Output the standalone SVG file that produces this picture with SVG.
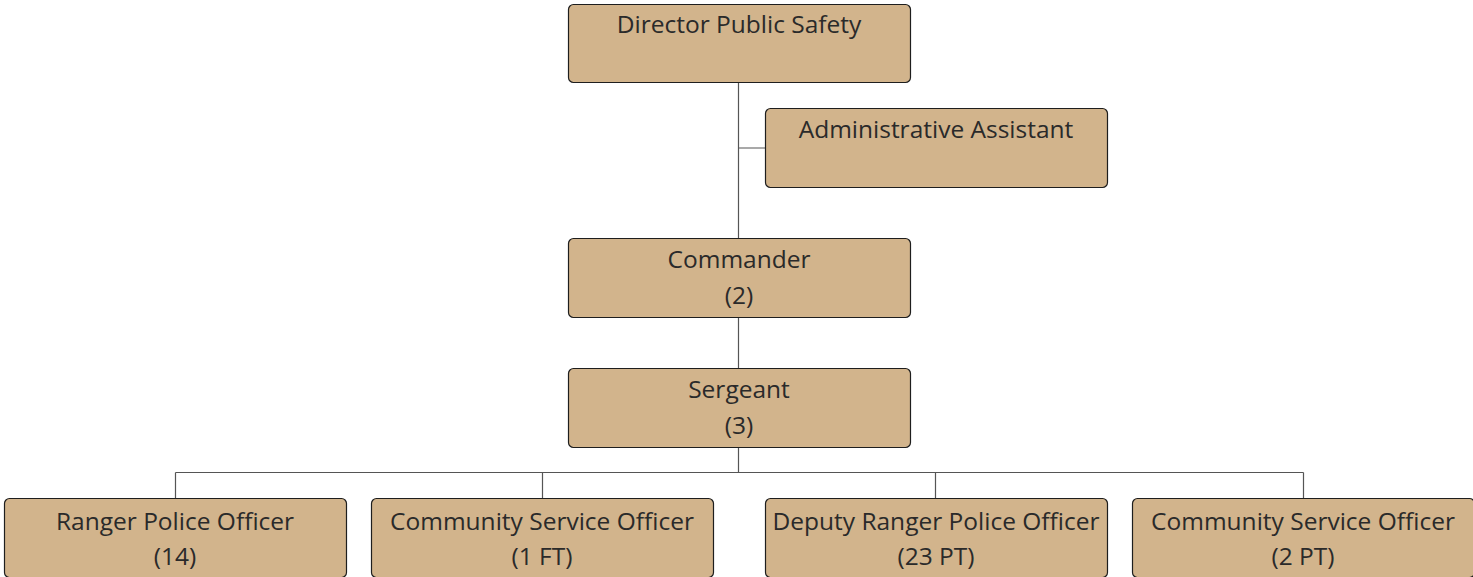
<svg xmlns="http://www.w3.org/2000/svg" width="1473" height="577" viewBox="0 0 1473 577">
<style>
.box{fill:#D2B48C;stroke:#1e1e1e;stroke-width:1.2}
.t{font-family:"Open Sans","Noto Sans",sans-serif;font-size:24.5px;fill:#2a2a2a;text-anchor:middle}
.c{fill:none;stroke:#555;stroke-width:1.2}
</style>
<rect width="1473" height="577" fill="#fff"/>
<g id="connectors">
<path class="c" d="M738.5 82V238M738.5 148H765M738.5 317V368M738.5 447V472.5M175.5 472.5H1303.5M175.5 472.5V498M542.5 472.5V498M935.5 472.5V498M1303.5 472.5V498"/>
</g>
<g id="director"><rect class="box" x="568.5" y="4.5" width="342" height="78" rx="5"/><text class="t" x="739" y="33">Director Public Safety</text></g>
<g id="admin"><rect class="box" x="765.5" y="108.5" width="342" height="79" rx="5"/><text class="t" x="936" y="138">Administrative Assistant</text></g>
<g id="commander"><rect class="box" x="568.5" y="238.5" width="342" height="79" rx="5"/><text class="t" x="739" y="268">Commander</text><text class="t" x="739" y="304">(2)</text></g>
<g id="sergeant"><rect class="box" x="568.5" y="368.5" width="342" height="79" rx="5"/><text class="t" x="739" y="398">Sergeant</text><text class="t" x="739" y="434">(3)</text></g>
<g id="ranger"><rect class="box" x="4.5" y="498.5" width="342" height="79" rx="5"/><text class="t" x="175" y="530">Ranger Police Officer</text><text class="t" x="175" y="565">(14)</text></g>
<g id="cso1"><rect class="box" x="371.5" y="498.5" width="342" height="79" rx="5"/><text class="t" x="542" y="530">Community Service Officer</text><text class="t" x="542" y="565">(1 FT)</text></g>
<g id="deputy"><rect class="box" x="765.5" y="498.5" width="342" height="79" rx="5"/><text class="t" x="936" y="530">Deputy Ranger Police Officer</text><text class="t" x="936" y="565">(23 PT)</text></g>
<g id="cso2"><rect class="box" x="1132.5" y="498.5" width="342" height="79" rx="5"/><text class="t" x="1303" y="530">Community Service Officer</text><text class="t" x="1303" y="565">(2 PT)</text></g>
</svg>
